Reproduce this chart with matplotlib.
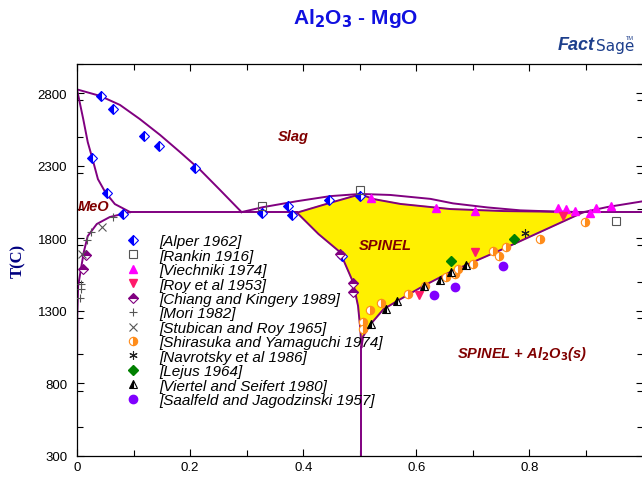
import numpy as np
import matplotlib
matplotlib.use('Agg')
import matplotlib.pyplot as plt
from matplotlib.ticker import MultipleLocator

plt.rcParams['font.family'] = ['Liberation Sans', 'DejaVu Sans']

# phase boundaries, x = mass fraction Al2O3, T in C
liq_mgo_x = [0.0, 0.041, 0.076, 0.111, 0.147, 0.182, 0.218, 0.253, 0.291]
liq_mgo_t = [2825, 2780, 2718, 2621, 2511, 2394, 2270, 2132, 1980]
sol_mgo_x = [0.0, 0.011, 0.019, 0.027, 0.037, 0.050, 0.067, 0.094]
sol_mgo_t = [2825, 2621, 2462, 2352, 2207, 2117, 2035, 1980]
solv_mgo_x = [0.094, 0.058, 0.035, 0.019, 0.012, 0.007, 0.002, 0.0005, 0.0]
solv_mgo_t = [1980, 1946, 1898, 1815, 1705, 1588, 1471, 1264, 700]
eut1_x = [0.094, 0.389]
eut_t = 1980
liq_sp_x = [0.291, 0.329, 0.389, 0.448, 0.501, 0.554, 0.625, 0.665, 0.726, 0.784, 0.850, 0.896]
liq_sp_t = [1980, 2014, 2055, 2090, 2105, 2098, 2071, 2040, 2012, 1992, 1983, 1980]
liq_al_x = [0.896, 0.938, 1.0]
liq_al_t = [1980, 2015, 2054]
sp_top_x = [0.389, 0.447, 0.501, 0.524, 0.572, 0.660, 0.754, 0.896]
sp_top_t = [1976, 2043, 2103, 2070, 2036, 2001, 1987, 1980]
sp_left_x = [0.389, 0.427, 0.465, 0.488, 0.497, 0.501, 0.503]
sp_left_t = [1976, 1829, 1705, 1499, 1333, 1175, 1050]
sp_right_x = [0.503, 0.506, 0.519, 0.542, 0.566, 0.612, 0.660, 0.701, 0.754, 0.896]
sp_right_t = [1050, 1124, 1207, 1311, 1367, 1470, 1567, 1637, 1727, 1980]
vert_x = [0.502, 0.502]
vert_t = [1050, 300]
eut2_x = [0.896, 1.0]

# experimental points
alper_x = [0.042, 0.064, 0.119, 0.145, 0.209, 0.027, 0.053, 0.081, 0.327, 0.381, 0.373, 0.446, 0.501, 0.469]
alper_t = [2783, 2690, 2504, 2435, 2284, 2353, 2112, 1967, 1974, 1960, 2022, 2063, 2091, 1678]
rankin_x = [0.327, 0.501, 0.954]
rankin_t = [2022, 2132, 1919]
viech_x = [0.520, 0.635, 0.703, 0.850, 0.865, 0.880, 0.908, 0.918, 0.945]
viech_t = [2077, 2008, 1988, 2008, 2001, 1988, 1974, 2008, 2022]
roy_x = [0.860, 0.704, 0.605]
roy_t = [1953, 1705, 1409]
chiang_x = [0.016, 0.011, 0.488, 0.488, 0.465]
chiang_t = [1684, 1588, 1492, 1430, 1691]
mori_x = [0.064, 0.025, 0.018, 0.007, 0.007, 0.006]
mori_t = [1946, 1843, 1788, 1485, 1450, 1388]
stub_x = [0.044, 0.008]
stub_t = [1877, 1691]
shir_x = [0.519, 0.506, 0.506, 0.538, 0.586, 0.616, 0.653, 0.669, 0.674, 0.701, 0.735, 0.747, 0.759, 0.818, 0.899]
shir_t = [1306, 1223, 1175, 1354, 1416, 1471, 1533, 1554, 1588, 1623, 1712, 1678, 1740, 1795, 1912]
navr_x = [0.792]
navr_t = [1836]
lejus_x = [0.662, 0.772]
lejus_t = [1643, 1795]
viert_x = [0.520, 0.547, 0.566, 0.614, 0.642, 0.662, 0.688]
viert_t = [1209, 1313, 1368, 1471, 1512, 1567, 1616]
saal_x = [0.632, 0.669, 0.754]
saal_t = [1409, 1464, 1609]

purple = '#800080'
dred = '#800000'

fig = plt.figure(figsize=(6.42, 4.81), dpi=100)
ax = fig.add_axes([77/642, 1-457/481, 565.5/642, 392/481])

# spinel field
fx = sp_top_x[::-1] + sp_left_x[1:] + sp_right_x[1:]
ft = sp_top_t[::-1] + sp_left_t[1:] + sp_right_t[1:]
ax.fill(fx, ft, color='#fff000', zorder=1)

for xs, ts in [(liq_mgo_x, liq_mgo_t), (sol_mgo_x, sol_mgo_t), (solv_mgo_x, solv_mgo_t),
               (eut1_x, [eut_t]*2), (liq_sp_x, liq_sp_t), (liq_al_x, liq_al_t),
               (sp_top_x, sp_top_t), (sp_left_x, sp_left_t), (sp_right_x, sp_right_t),
               (vert_x, vert_t), (eut2_x, [eut_t]*2)]:
    ax.plot(xs, ts, color=purple, lw=1.4, zorder=2)

ms = 5.5
ax.plot(alper_x, alper_t, ls='none', marker='D', ms=4.8, fillstyle='left', color='#0000ff',
        markerfacecoloralt='white', mew=0.8, label='[Alper 1962]', zorder=3)
ax.plot(rankin_x, rankin_t, ls='none', marker='s', ms=ms, mfc='none', mec='#555555', mew=0.8,
        label='[Rankin 1916]', zorder=3)
ax.plot(viech_x, viech_t, ls='none', marker='^', ms=ms+0.5, color='#ff00ff', label='[Viechniki 1974]', zorder=3)
ax.plot(roy_x, roy_t, ls='none', marker='v', ms=ms+0.5, color='#ff1a6a', label='[Roy et al 1953]', zorder=3)
ax.plot(chiang_x, chiang_t, ls='none', marker='D', ms=4.8, fillstyle='top', color=purple,
        markerfacecoloralt='white', mew=0.8, label='[Chiang and Kingery 1989]', zorder=3)
ax.plot(mori_x, mori_t, ls='none', marker='+', ms=ms+0.5, color='#555555', mew=0.8, label='[Mori 1982]', zorder=3)
ax.plot(stub_x, stub_t, ls='none', marker='x', ms=ms, color='#555555', mew=0.8,
        label='[Stubican and Roy 1965]', zorder=3)
ax.plot(shir_x, shir_t, ls='none', marker='o', ms=ms+0.5, fillstyle='right', color='#ff8c1a',
        markerfacecoloralt='white', mew=0.8, label='[Shirasuka and Yamaguchi 1974]', zorder=3)
ax.plot(navr_x, navr_t, ls='none', marker=(6, 2, 0), ms=ms+0.5, color='#222222', mew=0.8,
        label='[Navrotsky et al 1986]', zorder=3)
ax.plot(lejus_x, lejus_t, ls='none', marker='D', ms=ms-0.5, color='#008000', label='[Lejus 1964]', zorder=3)
ax.plot(viert_x, viert_t, ls='none', marker='^', ms=ms+0.5, fillstyle='left', color='black',
        markerfacecoloralt='white', mew=0.8, label='[Viertel and Seifert 1980]', zorder=3)
ax.plot(saal_x, saal_t, ls='none', marker='o', ms=ms+0.5, color='#8000ff', label='[Saalfeld and Jagodzinski 1957]', zorder=3)

leg = ax.legend(loc='upper left', bbox_to_anchor=(0.084, 0.566), frameon=False, borderpad=0,
                borderaxespad=0, handlelength=1.09, handletextpad=1.22, labelspacing=0.03,
                prop={'style': 'italic', 'size': 11})

lab = dict(color=dred, fontweight='bold', fontstyle='italic', fontsize=10.5, zorder=4)
ax.text(0.382, 2504, 'Slag', ha='center', va='center', **lab)
ax.text(0.002, 2022, 'MeO', ha='left', va='center', **lab)
ax.text(0.545, 1753, 'SPINEL', ha='center', va='center', **lab)
ax.text(0.788, 1009, r'SPINEL + Al$_\mathbf{2}$O$_\mathbf{3}$(s)', ha='center', va='center', **lab)

ax.set_xlim(0, 1)
ax.set_ylim(300, 3000)
ax.set_xticks([0, 0.2, 0.4, 0.6, 0.8])
ax.set_xticklabels(['0', '0.2', '0.4', '0.6', '0.8'])
ax.xaxis.set_minor_locator(MultipleLocator(0.1))
ax.set_yticks([300, 800, 1300, 1800, 2300, 2800])
ax.yaxis.set_minor_locator(MultipleLocator(250))
ax.tick_params(which='both', direction='in', top=True, right=True, labelsize=9.5, width=0.8)
ax.tick_params(which='major', length=5)
ax.tick_params(which='minor', length=4)
ax.tick_params(axis='y', pad=7)
for s in ax.spines.values():
    s.set_linewidth(0.9)

ax.set_ylabel('T(C)', family='Liberation Serif', fontweight='bold', fontsize=12, color='#000080', labelpad=8)

fig.text(356/642, 1-19/481, r'Al$_\mathbf{2}$O$_\mathbf{3}$ - MgO', ha='center', va='center',
         color='#1010e0', fontweight='bold', fontsize=15)
fig.text(558/642, 1-46/481, 'Fact', ha='left', va='center', color='#1d3f8c',
         fontweight='bold', fontstyle='italic', fontsize=13)
fig.text(596/642, 1-47/481, 'Sage', ha='left', va='center', color='#1d3f8c',
         fontsize=11, family='Liberation Sans Narrow')
fig.text(626/642, 1-38/481, 'TM', ha='left', va='center', color='#1d3f8c', fontsize=4)

fig.savefig('out.png', dpi=100)
